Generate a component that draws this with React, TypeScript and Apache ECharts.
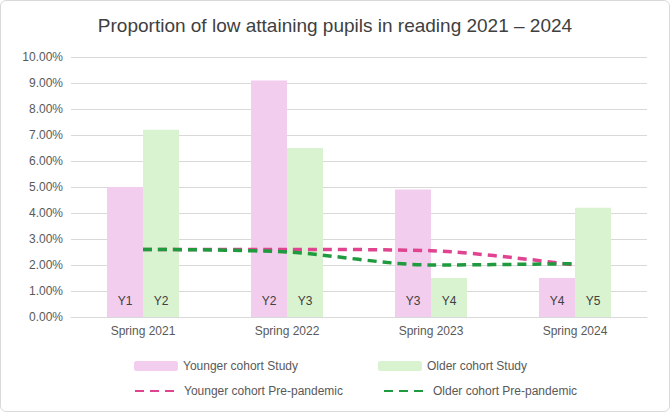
import { useEffect, useRef } from "react";
import * as echarts from "echarts";

const categories = ["Spring 2021", "Spring 2022", "Spring 2023", "Spring 2024"];
const youngerStudy = [5.0, 9.1, 4.9, 1.5];
const olderStudy = [7.2, 6.5, 1.5, 4.2];
const youngerPre = [2.6, 2.6, 2.55, 2.0];
const olderPre = [2.6, 2.5, 2.0, 2.05];
const youngerLabels = ["Y1", "Y2", "Y3", "Y4"];
const olderLabels = ["Y2", "Y3", "Y4", "Y5"];

const textColor = "#595959";

export default function App() {
  const chartRef = useRef<HTMLDivElement>(null);

  useEffect(() => {
    document.body.style.margin = "0";
    if (!chartRef.current) return;
    const chart = echarts.init(chartRef.current, undefined, { renderer: "svg" });
    const barLabel = (labels: string[]) => ({
      show: true,
      position: "insideBottom" as const,
      distance: 10,
      color: "#404040",
      fontSize: 12,
      formatter: (p: any) => labels[p.dataIndex],
    });
    chart.setOption({
      animation: false,
      textStyle: { fontFamily: "Liberation Sans, Arial, sans-serif" },
      title: {
        text: "Proportion of low attaining pupils in reading 2021 \u2013 2024",
        left: "center",
        top: 10,
        textStyle: { fontSize: 19, fontWeight: "normal", color: "#404040" },
      },
      grid: { left: 70, right: 22, top: 56, bottom: 94 },
      legend: [
        {
          data: ["Younger cohort Study", "Older cohort Study"],
          top: 354,
          left: 128,
          itemGap: 80,
          itemWidth: 44,
          itemHeight: 10,
          textStyle: { color: textColor, fontSize: 12 },
        },
        {
          data: ["Younger cohort Pre-pandemic", "Older cohort Pre-pandemic"],
          top: 379,
          left: 128,
          itemGap: 40,
          itemWidth: 44,
          itemHeight: 10,
          itemStyle: { opacity: 0 },
          textStyle: { color: textColor, fontSize: 12 },
        },
      ],
      xAxis: {
        type: "category",
        data: categories,
        axisLine: { lineStyle: { color: "#d9d9d9" } },
        axisTick: { show: false },
        axisLabel: { color: textColor, fontSize: 12 },
      },
      yAxis: {
        type: "value",
        min: 0,
        max: 10,
        interval: 1,
        axisLabel: { color: textColor, fontSize: 12, formatter: (v: number) => v.toFixed(2) + "%" },
        splitLine: { lineStyle: { color: "#d9d9d9" } },
      },
      series: [
        {
          name: "Younger cohort Study",
          type: "bar",
          data: youngerStudy,
          barWidth: 36,
          barGap: "0%",
          itemStyle: { color: "#f2cdee" },
          label: barLabel(youngerLabels),
        },
        {
          name: "Older cohort Study",
          type: "bar",
          data: olderStudy,
          barWidth: 36,
          itemStyle: { color: "#d9f3d1" },
          label: barLabel(olderLabels),
        },
        {
          name: "Younger cohort Pre-pandemic",
          type: "line",
          data: youngerPre,
          smooth: 0.3,
          symbol: "none",
          lineStyle: { color: "#e0438f", width: 3.5, type: [9, 6] },
          itemStyle: { color: "#e0438f" },
        },
        {
          name: "Older cohort Pre-pandemic",
          type: "line",
          data: olderPre,
          smooth: 0.3,
          symbol: "none",
          lineStyle: { color: "#1f9a3f", width: 3.5, type: [9, 6] },
          itemStyle: { color: "#1f9a3f" },
        },
      ],
    });
    return () => chart.dispose();
  }, []);

  return (
    <div
      style={{
        width: 668,
        height: 410,
        border: "1px solid #d9d9d9",
        borderRadius: 6,
        background: "#fff",
      }}
    >
      <div ref={chartRef} style={{ width: 668, height: 410 }} />
    </div>
  );
}
